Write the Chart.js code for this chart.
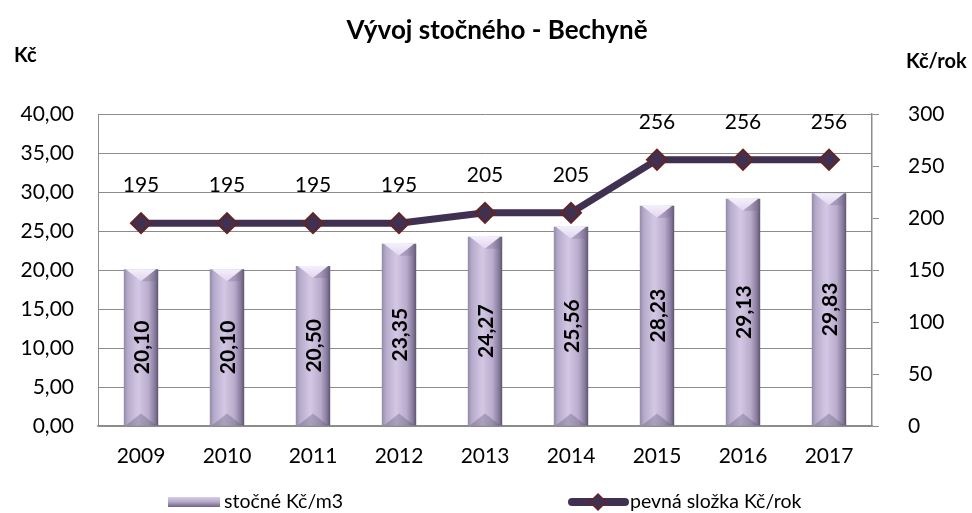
<!DOCTYPE html>
<html><head><meta charset="utf-8">
<script src="https://cdn.jsdelivr.net/npm/chart.js@4"></script>
<style>html,body{margin:0;padding:0;background:#fff}#wrap{width:972px;height:513px;position:relative}canvas{display:block}</style>
</head><body><div id="wrap"><canvas id="c" width="972" height="513"></canvas></div>
<script>
const years = ['2009','2010','2011','2012','2013','2014','2015','2016','2017'];
const stocne = [20.10,20.10,20.50,23.35,24.27,25.56,28.23,29.13,29.83];
const pevna = [195,195,195,195,205,205,256,256,256];
const seriesNames = ['stočné Kč/m3','pevná složka Kč/rok'];
const titleText = 'Vývoj stočného - Bechyně';
const leftUnit = 'Kč';
const rightUnit = 'Kč/rok';

const FONT = 'Lato, "Open Sans", sans-serif';
const LINE_COLOR = '#403152';
const MARKER_BORDER = '#632523';
const GRID = '#8c8c8c';
const fmt2 = v => v.toFixed(2).replace('.', ',');

function barGradient(ctx, left, right) {
  const g = ctx.createLinearGradient(left, 0, right, 0);
  g.addColorStop(0, '#928aa6');
  g.addColorStop(0.12, '#b6aacb');
  g.addColorStop(0.42, '#d3c8e4');
  g.addColorStop(0.72, '#b8abcc');
  g.addColorStop(0.9, '#887c9e');
  g.addColorStop(1, '#5e546e');
  return g;
}

const decor = {
  id: 'decor',
  afterDatasetsDraw(chart) {
    const ctx = chart.ctx;
    const bm = chart.getDatasetMeta(0);
    bm.data.forEach((el, i) => {
      const w = el.width, l = el.x - w / 2, r = el.x + w / 2, t = el.y, b = el.base;
      const d = 12;
      ctx.save();
      let g = ctx.createLinearGradient(0, t, 0, t + d);
      g.addColorStop(0, '#f4effb'); g.addColorStop(1, '#e0d6ee');
      ctx.fillStyle = g;
      ctx.beginPath(); ctx.moveTo(l + 2, t); ctx.lineTo(r - 2, t); ctx.lineTo(el.x, t + d); ctx.closePath(); ctx.fill();
      ctx.fillStyle = 'rgba(120,105,140,0.3)';
      ctx.beginPath(); ctx.moveTo(r - 2, t); ctx.lineTo(r, t); ctx.lineTo(r, t + d); ctx.lineTo(el.x, t + d); ctx.closePath(); ctx.fill();
      ctx.fillStyle = 'rgba(80,68,100,0.3)';
      ctx.beginPath(); ctx.moveTo(l + 2, b); ctx.lineTo(r - 2, b); ctx.lineTo(el.x, b - d); ctx.closePath(); ctx.fill();
      ctx.restore();
      ctx.save();
      ctx.translate(el.x, (t + b) / 2);
      ctx.rotate(-Math.PI / 2);
      ctx.font = 'bold 21px ' + FONT;
      ctx.fillStyle = '#000';
      ctx.textAlign = 'center';
      ctx.textBaseline = 'middle';
      ctx.fillText(fmt2(stocne[i]), 0, 1);
      ctx.restore();
    });
  },
  afterDraw(chart) {
    const ctx = chart.ctx;
    const lm = chart.getDatasetMeta(1);
    ctx.save();
    ctx.font = '21px ' + FONT;
    ctx.fillStyle = '#000';
    ctx.textAlign = 'center';
    ctx.textBaseline = 'middle';
    lm.data.forEach((el, i) => ctx.fillText(String(pevna[i]), el.x, el.y - 38));
    ctx.font = 'bold 26px ' + FONT;
    ctx.fillText(titleText, 497, 31);
    ctx.font = 'bold 20px ' + FONT;
    ctx.textAlign = 'left';
    ctx.fillText(leftUnit, 14, 56);
    ctx.fillText(rightUnit, 906, 62);
    const ly = 502;
    let g = ctx.createLinearGradient(0, ly - 5, 0, ly + 5);
    g.addColorStop(0, '#d9cfe8'); g.addColorStop(0.5, '#b3a6c8'); g.addColorStop(1, '#6f6384');
    ctx.fillStyle = g;
    ctx.fillRect(168, ly - 5, 52, 10);
    ctx.fillStyle = '#000';
    ctx.font = '19.5px ' + FONT;
    ctx.fillText(seriesNames[0], 224, ly);
    ctx.strokeStyle = LINE_COLOR; ctx.lineWidth = 8; ctx.lineCap = 'round';
    ctx.beginPath(); ctx.moveTo(572, ly); ctx.lineTo(625, ly); ctx.stroke();
    ctx.fillStyle = LINE_COLOR; ctx.strokeStyle = MARKER_BORDER; ctx.lineWidth = 1.5;
    ctx.beginPath(); ctx.moveTo(598, ly - 8); ctx.lineTo(606, ly); ctx.lineTo(598, ly + 8); ctx.lineTo(590, ly); ctx.closePath(); ctx.fill(); ctx.stroke();
    ctx.fillStyle = '#000';
    ctx.fillText(seriesNames[1], 630, ly);
    ctx.restore();
  }
};

new Chart(document.getElementById('c'), {
  data: {
    labels: years,
    datasets: [
      {
        type: 'bar', label: seriesNames[0], data: stocne, yAxisID: 'y', order: 2,
        backgroundColor: (c) => {
          const ch = c.chart, a = ch.chartArea, xs = ch.scales && ch.scales.x;
          if (!a || !xs || c.dataIndex === undefined) return '#b3a6c8';
          const cx = xs.getPixelForValue(c.dataIndex);
          const w = a.width / years.length * 0.4;
          if (!isFinite(cx) || !isFinite(w)) return '#b3a6c8';
          return barGradient(ch.ctx, cx - w / 2, cx + w / 2);
        },
        borderWidth: 0, barPercentage: 0.8, categoryPercentage: 0.5
      },
      {
        type: 'line', label: seriesNames[1], data: pevna, yAxisID: 'y1', order: 1,
        borderColor: LINE_COLOR, borderWidth: 7, tension: 0,
        pointStyle: 'rectRot', pointRadius: 10, pointHoverRadius: 10,
        pointBackgroundColor: LINE_COLOR, pointBorderColor: MARKER_BORDER, pointBorderWidth: 2
      }
    ]
  },
  options: {
    responsive: false, animation: false,
    layout: { padding: { top: 114, left: 0, right: 0, bottom: 0 } },
    plugins: { legend: { display: false }, title: { display: false }, tooltip: { enabled: false } },
    scales: {
      x: {
        offset: true,
        grid: { display: false, drawTicks: false },
        border: { display: true, color: GRID, width: 1.5 },
        ticks: { font: { family: FONT, size: 21 }, color: '#000', padding: 18, maxRotation: 0 },
        afterFit: s => { s.height = 87; }
      },
      y: {
        position: 'left', min: 0, max: 40,
        grid: { color: GRID, lineWidth: 1, drawTicks: false },
        border: { display: true, color: GRID, width: 1 },
        ticks: { stepSize: 5, font: { family: FONT, size: 21 }, color: '#000', padding: 24, callback: v => fmt2(v) },
        afterFit: s => { s.width = 98; }
      },
      y1: {
        position: 'right', min: 0, max: 300,
        grid: { drawOnChartArea: false, drawTicks: true, tickLength: 7, color: GRID },
        border: { display: true, color: GRID, width: 1.5 },
        ticks: { stepSize: 50, font: { family: FONT, size: 21 }, color: '#000', padding: 29 },
        afterFit: s => { s.width = 100; }
      }
    }
  },
  plugins: [decor]
});
</script>
</body></html>
